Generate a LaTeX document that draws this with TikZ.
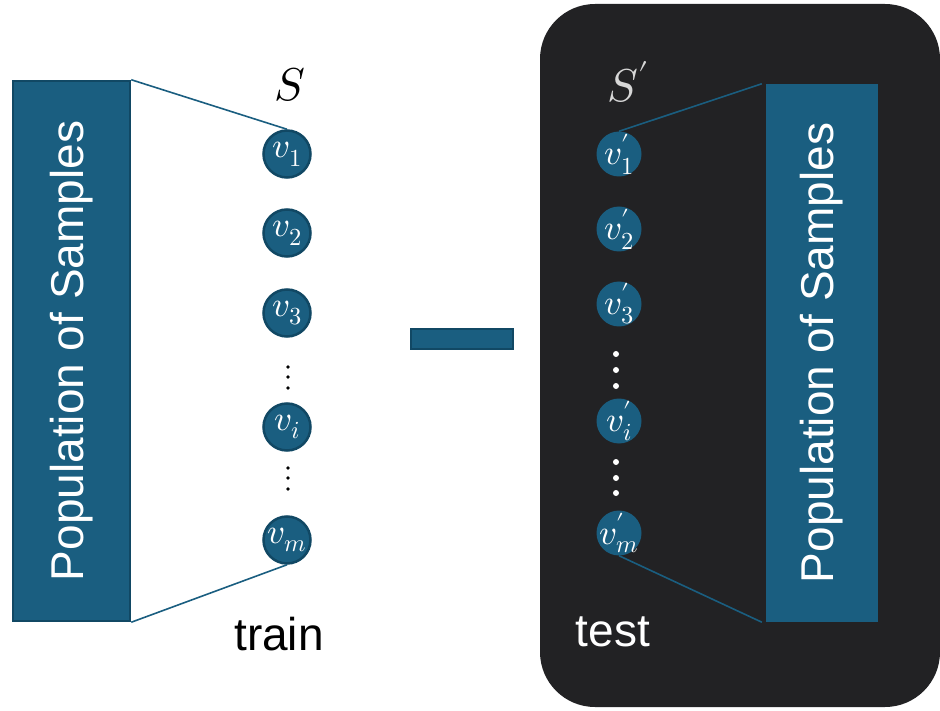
\documentclass[tikz,border=0pt]{standalone}
\usepackage{fontspec}
\usepackage{unicode-math}
\setmainfont{Liberation Sans}
\setmathfont{Latin Modern Math}
\definecolor{popblue}{RGB}{26,94,128}
\definecolor{popedge}{RGB}{17,72,100}
\definecolor{darkbg}{RGB}{34,34,36}
\definecolor{lightgray}{RGB}{215,215,215}
\begin{document}
\begin{tikzpicture}[x=1pt,y=-1pt,
  popbox/.style={fill=popblue,inner sep=0pt},
  samp/.style={circle,fill=popblue,draw=popedge,line width=2.5pt,minimum size=47pt,inner sep=0pt},
  sampw/.style={circle,fill=popblue,minimum size=45pt,inner sep=0pt},
  samptxt/.style={inner sep=0pt,text=white,font=\fontsize{35}{40}\selectfont},
  conn/.style={draw=popblue,line width=1.6pt},
  bigtxt/.style={font=\fontsize{46}{52}\selectfont}]
\useasboundingbox (0,0) rectangle (940,711);
% dark test panel
\fill[darkbg,rounded corners=55pt] (540,4) rectangle (940,707);
% left population box
\node[popbox,draw=popedge,line width=2.5pt,minimum width=117pt,minimum height=540pt] (lpop) at (71.5,351) {};
\node[rotate=90,text=white,bigtxt] (lpopt) at (lpop.center) {Population of Samples};
% right population box
\node[popbox,minimum width=112pt,minimum height=538pt] (rpop) at (822,353) {};
\node[rotate=90,text=white,bigtxt] (rpopt) at (rpop.center) {Population of Samples};
% left samples
\node[font=\fontsize{46}{52}\selectfont] (S) at (290,85) {$S$};
\foreach \n/\y/\t in {v1/154/1,v2/233/2,v3/313/3,vi/427/i,vm/540/m}{
  \node[samp] (\n) at (287,\y) {};
  \node[samptxt] (\n t) at (\n.center) {$v_{\t}$};
}
\foreach \y in {367,377,388,468,478,489} \fill (288,\y) circle (1.8pt);
\node[bigtxt] (train) at (279,634) {train};
% right samples
\node[font=\fontsize{46}{52}\selectfont,text=lightgray] (Sp) at (628,82) {$S'$};
\foreach \n/\y/\t in {w1/154/1,w2/229/2,w3/304/3,wi/421/i,wm/533/m}{
  \node[sampw] (\n) at (619,\y) {};
  \node[samptxt] (\n t) at (\n.center) {$v'_{\t}$};
}
\foreach \y in {354,370,386,462,478,493} \fill[white] (616,\y) circle (3pt);
\node[bigtxt,text=white] (test) at (613,632) {test};
% minus sign
\node[fill=popblue,draw=popedge,line width=2.5pt,minimum width=102pt,minimum height=20pt,inner sep=0pt] (minus) at (462,339) {};
% connectors
\draw[conn] (lpop.north east) -- (v1.north);
\draw[conn] (lpop.south east) -- (vm.south);
\draw[conn] (w1.north) -- ([xshift=-4pt]rpop.north west);
\draw[conn] (wm.south) -- ([xshift=-4pt]rpop.south west);
\end{tikzpicture}
\end{document}
